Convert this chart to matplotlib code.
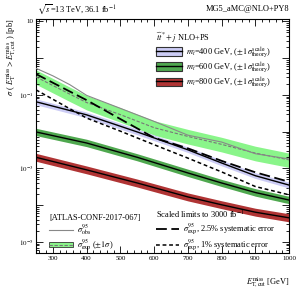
import numpy as np
import matplotlib
matplotlib.use("Agg")
import matplotlib.pyplot as plt
from matplotlib.patches import Patch
from matplotlib.lines import Line2D
from matplotlib.legend_handler import HandlerTuple
from matplotlib.ticker import LogLocator, FixedLocator, FixedFormatter, MultipleLocator, NullFormatter

plt.rcParams['font.family'] = ['Liberation Serif', 'DejaVu Serif']
plt.rcParams['mathtext.fontset'] = 'stix'

# signal region cuts (GeV) for the limits
met_cut = [250, 300, 350, 400, 500, 600, 700, 800, 900, 1000]
obs = [0.53, 0.33, 0.19, 0.097, 0.043, 0.019, 0.0080, 0.0052, 0.0025, 0.0018]
exp = [0.31, 0.18, 0.105, 0.062, 0.029, 0.0128, 0.0074, 0.0045, 0.0026, 0.0017]
exp_up = [0.48, 0.28, 0.163, 0.096, 0.045, 0.0198, 0.0115, 0.0070, 0.0040, 0.0026]
exp_dn = [0.194, 0.113, 0.066, 0.039, 0.018, 0.0080, 0.0046, 0.0028, 0.0016, 0.00106]
# limits scaled to 3000 fb-1
hl_sys25 = [0.37, 0.214, 0.124, 0.072, 0.022, 0.0068, 0.0035, 0.0016, 0.00078, 0.00043]
hl_sys1 = [0.137, 0.076, 0.042, 0.0234, 0.0103, 0.0044, 0.0019, 0.0008, 0.00032, 0.00019]

# theory predictions
met_th = [250, 400, 550, 700, 800, 900, 1000]
th400 = [0.065, 0.0286, 0.0098, 0.0032, 0.0014, 0.00063, 0.00035]
th400_up = [0.078, 0.034, 0.0118, 0.0038, 0.00168, 0.00076, 0.00042]
th400_dn = [0.054, 0.0238, 0.0082, 0.0027, 0.00117, 0.00053, 0.00029]
th600 = [0.0098, 0.0049, 0.0020, 0.00075, 0.00040, 0.00022, 0.000137]
th600_up = [0.0123, 0.0062, 0.0025, 0.00095, 0.00050, 0.00028, 0.000173]
th600_dn = [0.0078, 0.0039, 0.0016, 0.0006, 0.00032, 0.000175, 0.000109]
th800 = [0.0020, 0.00091, 0.00040, 0.000167, 0.000102, 0.000064, 0.000045]
th800_up = [0.00256, 0.00116, 0.00051, 0.000214, 0.000131, 0.000082, 0.000058]
th800_dn = [0.00156, 0.00071, 0.00031, 0.00013, 0.00008, 0.00005, 0.000035]

# y axis decades and the labels shown on them
y_decades = [1e-5, 1e-4, 1e-3, 1e-2, 1e-1, 1, 10]
y_labels = [r'$10^{-5}$', '', r'$10^{-3}$', '', r'$10^{-1}$', '', '10']

c400, c600, c800 = '#ccccf5', '#4fa84f', '#b03434'
c_exp = '#8af58a'
fs = 6

fig = plt.figure(figsize=(3.05, 2.91), dpi=100)
ax = fig.add_axes([0.118, 0.131, 0.830, 0.804])

# theory bands
for x_, y_, up, dn, col in [(met_th, th400, th400_up, th400_dn, c400),
                            (met_th, th600, th600_up, th600_dn, c600),
                            (met_th, th800, th800_up, th800_dn, c800)]:
    ax.fill_between(x_, dn, up, color=col, lw=0, zorder=2)
    ax.plot(x_, y_, color='black', lw=1.0, zorder=3)

# expected band and lines
ax.fill_between(met_cut, exp_dn, exp_up, color=c_exp, lw=0, zorder=1)
ax.plot(met_cut, exp, color='#777777', lw=0.8, dashes=(3, 1.5), zorder=4)
ax.plot(met_cut, obs, color='#888888', lw=0.8, zorder=4)
ax.plot(met_cut, hl_sys25, color='black', lw=1.3, dashes=(6, 2.5), zorder=5)
ax.plot(met_cut, hl_sys1, color='black', lw=1.1, dashes=(2.5, 1.8), zorder=5)

ax.set_yscale('log')
ax.set_xlim(250, 1000)
ax.set_ylim(5e-6, 11.7)

ax.xaxis.set_major_locator(MultipleLocator(100))
ax.xaxis.set_minor_locator(MultipleLocator(20))
ax.yaxis.set_major_locator(FixedLocator(y_decades))
ax.yaxis.set_major_formatter(FixedFormatter(y_labels))
ax.yaxis.set_minor_locator(LogLocator(base=10, subs=np.arange(2, 10), numticks=30))
ax.yaxis.set_minor_formatter(NullFormatter())

ax.tick_params(which='both', direction='in', top=True, right=True, labelsize=5, width=0.6, pad=2)
ax.tick_params(which='major', length=5)
ax.tick_params(which='minor', length=2.5)
for s in ax.spines.values():
    s.set_linewidth(0.8)

ax.set_xlabel(r'$E_{\rm T, cut}^{\rm miss}$ [GeV]', fontsize=fs, loc='right', labelpad=11)
ax.set_ylabel(r'$\sigma$ ( $E_{\rm T}^{\rm miss} > E_{\rm T, cut}^{\rm miss}$ ) [pb]', fontsize=fs, loc='top')
ax.yaxis.set_label_coords(-0.068, 1.0)

fig.text(37 / 305, 1 - 9 / 291, r'$\sqrt{s}$=13 TeV, 36.1 fb$^{-1}$', fontsize=fs, va='center')
fig.text(289 / 305, 1 - 9 / 291, 'MG5_aMC@NLO+PY8', fontsize=fs, va='center', ha='right')

tup = {tuple: HandlerTuple(ndivide=1, pad=0)}

# top-right legend: theory
def band_handle(col):
    return (Patch(facecolor=col, edgecolor='#333333', lw=0.8), Line2D([], [], color='black', lw=1.0))

th_handles = [band_handle(c400), band_handle(c600), band_handle(c800)]
th_labels = [r'$m_{\tilde{t}}$=%d GeV, ($\pm\,1\sigma_{\rm theory}^{\rm scale}$)' % m for m in (400, 600, 800)]
leg1 = ax.legend(th_handles, th_labels, handler_map=tup,
                 loc='upper left', bbox_to_anchor=(0.45, 0.975), frameon=False, fontsize=fs,
                 title=r'$\tilde{t}\tilde{t}^{*}+j$ NLO+PS', title_fontsize=fs, alignment='left',
                 handlelength=3.2, handleheight=1.2, labelspacing=0.05, borderpad=0.2, handletextpad=0.4)
ax.add_artist(leg1)

# bottom-left legend: ATLAS limits
atl_handles = [Line2D([], [], color='#888888', lw=0.8),
               (Patch(facecolor=c_exp, edgecolor='#333333', lw=0.6),
                Line2D([], [], color='#777777', lw=0.8, dashes=(3, 1.5)))]
atl_labels = [r'$\sigma_{\rm obs}^{95}$', r'$\sigma_{\rm exp}^{95}$ ($\pm1\sigma$)']
leg2 = ax.legend(atl_handles, atl_labels, handler_map=tup,
                 loc='lower left', bbox_to_anchor=(0.03, -0.025), frameon=False, fontsize=fs,
                 title='[ATLAS-CONF-2017-067]', title_fontsize=fs, alignment='left',
                 handlelength=2.8, labelspacing=0.1, borderpad=0.2, handletextpad=0.5)
ax.add_artist(leg2)

# bottom-right legend: HL-LHC projection
hl_handles = [Line2D([], [], color='black', lw=1.3, dashes=(6, 2.5)),
              Line2D([], [], color='black', lw=1.1, dashes=(2.5, 1.8))]
hl_labels = [r'$\sigma_{\rm exp}^{95}$, 2.5% systematic error', r'$\sigma_{\rm exp}^{95}$, 1% systematic error']
ax.legend(hl_handles, hl_labels, loc='lower left', bbox_to_anchor=(0.45, -0.025), frameon=False,
          fontsize=fs, title=r'Scaled limits to 3000 fb$^{-1}$', title_fontsize=fs, alignment='left',
          handlelength=2.8, labelspacing=0.1, borderpad=0.2, handletextpad=0.5)

fig.savefig('out.png', dpi=100)
